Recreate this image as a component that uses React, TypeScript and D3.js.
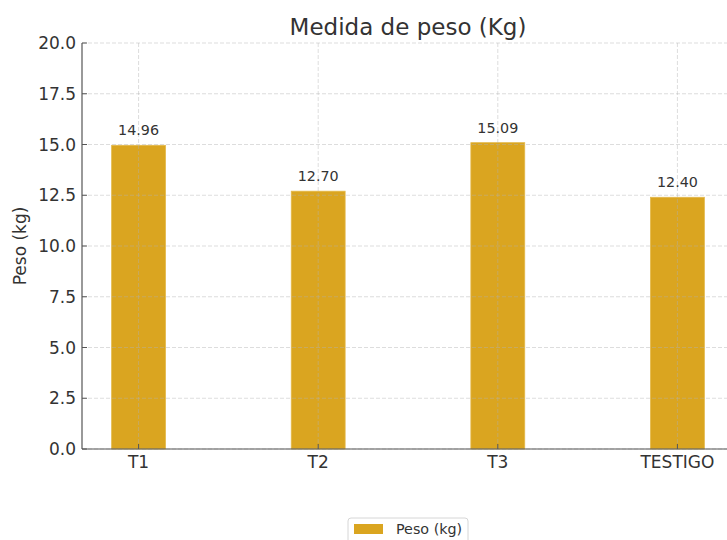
import React, { useEffect, useRef } from 'react';
import * as d3 from 'd3';

const categories = ['T1', 'T2', 'T3', 'TESTIGO'];
const pesoValues = [14.96, 12.7, 15.09, 12.4];
const yTicks = [0, 2.5, 5, 7.5, 10, 12.5, 15, 17.5, 20];
const seriesName = 'Peso (kg)';
const chartTitle = 'Medida de peso (Kg)';

const W = 727;
const H = 540;
const FONT = '"DejaVu Sans", sans-serif';
const BAR_COLOR = '#DAA520';

const App: React.FC = () => {
  const ref = useRef<SVGSVGElement>(null);

  useEffect(() => {
    const svg = d3.select(ref.current);
    svg.html('');

    const left = 82;
    const right = 734; // plot runs past the picture edge
    const top = 43;
    const bottom = 449;

    const x = d3.scaleLinear().domain([-0.315, categories.length - 1 + 0.315]).range([left, right]);
    const y = d3.scaleLinear().domain([0, 20]).range([bottom, top]);
    const barW = x(0.3) - x(0);

    svg.append('rect').attr('width', W).attr('height', H).attr('fill', '#fff');

    // bars
    svg.append('g')
      .selectAll('rect')
      .data(pesoValues)
      .enter()
      .append('rect')
      .attr('x', (d, i) => x(i) - barW / 2)
      .attr('y', d => y(d))
      .attr('width', barW)
      .attr('height', d => y(0) - y(d))
      .attr('fill', BAR_COLOR)
      .attr('stroke', '#e3b84a')
      .attr('stroke-width', 0.8);

    // grid on top of bars
    const grid = svg.append('g')
      .attr('stroke', '#b0b0b0')
      .attr('stroke-opacity', 0.55)
      .attr('stroke-width', 0.8)
      .attr('stroke-dasharray', '4,2');
    grid.selectAll('line.h')
      .data(yTicks)
      .enter()
      .append('line')
      .attr('x1', left).attr('x2', right)
      .attr('y1', d => y(d)).attr('y2', d => y(d));
    grid.selectAll('line.v')
      .data(categories)
      .enter()
      .append('line')
      .attr('x1', (d, i) => x(i)).attr('x2', (d, i) => x(i))
      .attr('y1', top).attr('y2', bottom);

    // spines
    svg.append('line').attr('x1', left).attr('x2', left).attr('y1', top).attr('y2', bottom)
      .attr('stroke', '#555').attr('stroke-width', 1.2);
    svg.append('line').attr('x1', left).attr('x2', right).attr('y1', bottom).attr('y2', bottom)
      .attr('stroke', '#555').attr('stroke-width', 1.2);

    // y ticks (inward)
    const yAx = svg.append('g');
    yAx.selectAll('line')
      .data(yTicks)
      .enter()
      .append('line')
      .attr('x1', left).attr('x2', left + 5)
      .attr('y1', d => y(d)).attr('y2', d => y(d))
      .attr('stroke', '#555').attr('stroke-width', 1);
    yAx.selectAll('text')
      .data(yTicks)
      .enter()
      .append('text')
      .attr('x', left - 6)
      .attr('y', d => y(d))
      .attr('dy', '0.36em')
      .attr('text-anchor', 'end')
      .attr('font-family', FONT)
      .attr('font-size', 17)
      .attr('fill', '#333')
      .text(d => d3.format('.1f')(d));

    // x ticks (inward)
    const xAx = svg.append('g');
    xAx.selectAll('line')
      .data(categories)
      .enter()
      .append('line')
      .attr('x1', (d, i) => x(i)).attr('x2', (d, i) => x(i))
      .attr('y1', bottom).attr('y2', bottom - 5)
      .attr('stroke', '#555').attr('stroke-width', 1);
    xAx.selectAll('text')
      .data(categories)
      .enter()
      .append('text')
      .attr('x', (d, i) => x(i))
      .attr('y', bottom + 19)
      .attr('text-anchor', 'middle')
      .attr('font-family', FONT)
      .attr('font-size', 17)
      .attr('fill', '#333')
      .text(d => d);

    // value labels
    svg.append('g')
      .selectAll('text')
      .data(pesoValues)
      .enter()
      .append('text')
      .attr('x', (d, i) => x(i))
      .attr('y', d => y(d) - 10)
      .attr('text-anchor', 'middle')
      .attr('font-family', FONT)
      .attr('font-size', 14.3)
      .attr('fill', '#333')
      .text(d => d.toFixed(2));

    // title
    svg.append('text')
      .attr('x', (left + right) / 2)
      .attr('y', 35)
      .attr('text-anchor', 'middle')
      .attr('font-family', FONT)
      .attr('font-size', 23)
      .attr('fill', '#333')
      .text(chartTitle);

    // y label
    svg.append('text')
      .attr('transform', `translate(26,${(top + bottom) / 2}) rotate(-90)`)
      .attr('text-anchor', 'middle')
      .attr('font-family', FONT)
      .attr('font-size', 17)
      .attr('fill', '#333')
      .text('Peso (kg)');

    // legend
    const lg = svg.append('g').attr('transform', `translate(${(left + right) / 2 - 60},518)`);
    lg.append('rect')
      .attr('width', 120).attr('height', 30).attr('rx', 3)
      .attr('fill', '#fff').attr('stroke', '#d6d6d6').attr('stroke-width', 1);
    lg.append('rect')
      .attr('x', 6).attr('y', 6).attr('width', 29).attr('height', 10)
      .attr('fill', BAR_COLOR);
    lg.append('text')
      .attr('x', 48).attr('y', 16)
      .attr('font-family', FONT)
      .attr('font-size', 14.3)
      .attr('fill', '#333')
      .text(seriesName);
  }, []);

  return (
    <svg
      ref={ref}
      width={W}
      height={H}
      style={{ position: 'absolute', left: 0, top: 0, display: 'block' }}
    />
  );
};

export default App;
